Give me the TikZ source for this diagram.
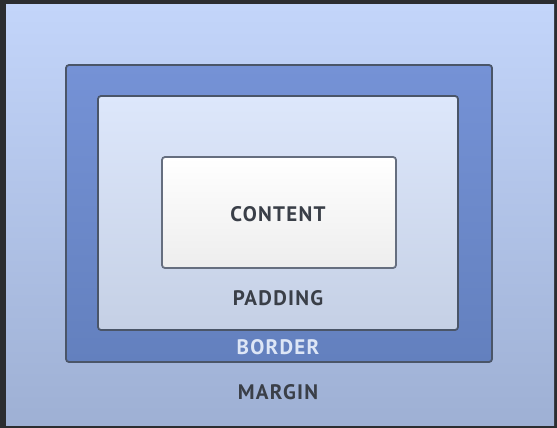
\documentclass[tikz,border=0pt]{standalone}
\usepackage{fontspec}
\setmainfont{PT Sans}
\newfontfamily\labelfont[LetterSpace=6]{PT Sans}
\definecolor{frame}{HTML}{2B2D30}
\definecolor{margintop}{HTML}{C3D5FA}
\definecolor{marginbot}{HTML}{9EB0D4}
\definecolor{bordertop}{HTML}{7592D6}
\definecolor{borderbot}{HTML}{6380BE}
\definecolor{padtop}{HTML}{DDE7FB}
\definecolor{padbot}{HTML}{C5D0E5}
\definecolor{edge}{HTML}{4A5568}
\definecolor{label}{HTML}{3A3F48}
\definecolor{labellight}{HTML}{DDE6F6}
\tikzset{
  boxlayer/.style={draw=edge, line width=1.8pt, rounded corners=3pt},
  boxlabel/.style={font=\labelfont\bfseries\fontsize{21}{22}\selectfont, text=label},
}
\begin{document}
\begin{tikzpicture}[x=1pt,y=-1pt]
  \useasboundingbox (0,0) rectangle (557,428);
  % outer frame and margin area
  \fill[frame] (0,0) rectangle (557,428);
  \shade[top color=margintop, bottom color=marginbot] (6,5) rectangle (554,425);
  % border ring
  \shade[boxlayer, top color=bordertop, bottom color=borderbot] (66,65) rectangle (492,362);
  % padding area
  \shade[boxlayer, top color=padtop, bottom color=padbot] (98,96) rectangle (458,330);
  % content box
  \shade[boxlayer, draw=edge!85, top color=white, bottom color=white!93!black] (162,157) rectangle (396,268);
  % labels
  \node[boxlabel] (content) at (278,214) {CONTENT};
  \node[boxlabel] (padding) at (278,298) {PADDING};
  \node[boxlabel, text=labellight] (border) at (278,347) {BORDER};
  \node[boxlabel] (margin) at (278,392) {MARGIN};
\end{tikzpicture}
\end{document}
